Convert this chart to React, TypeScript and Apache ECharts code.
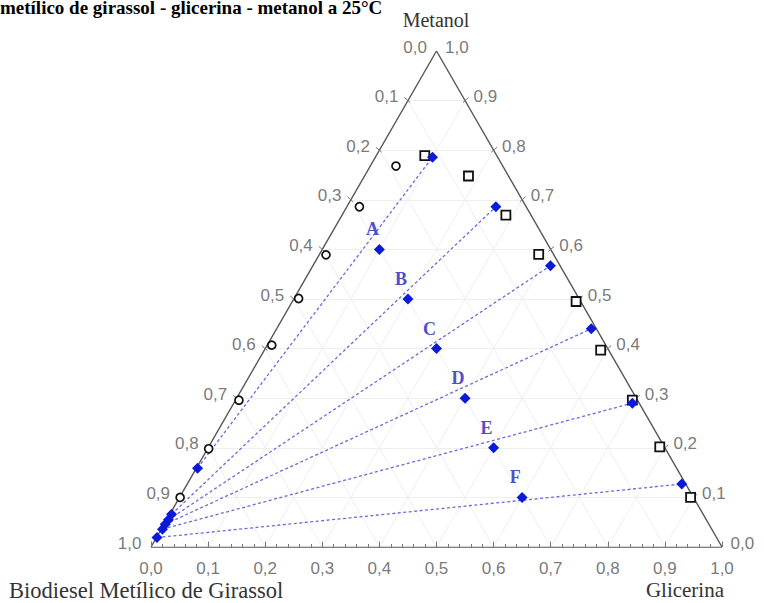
import React, { useEffect, useRef } from 'react';
import * as echarts from 'echarts';

// Tie-line labels and overall mixture compositions (mass fractions)
const tieLabels = ['A', 'B', 'C', 'D', 'E', 'F'];
const mixGlicerina = [0.1, 0.2, 0.3, 0.4, 0.5, 0.6];
const mixMetanol = [0.6, 0.5, 0.4, 0.3, 0.2, 0.1];

// Glycerin-rich phase (tie-line right ends)
const glyPhaseGlicerina = [0.100, 0.261, 0.416, 0.551, 0.698, 0.866];
const glyPhaseMetanol = [0.786, 0.686, 0.567, 0.440, 0.290, 0.127];

// Biodiesel-rich phase (tie-line left ends)
const bioPhaseGlicerina = [0.002, 0.003, 0.003, 0.002, 0.002, 0.001];
const bioPhaseMetanol = [0.159, 0.066, 0.055, 0.046, 0.036, 0.019];

// Binodal points: biodiesel side (circles)
const circGlicerina = [0.045, 0.022, 0.012, 0.008, 0.008, 0.006, 0.002, 0.001];
const circMetanol = [0.768, 0.686, 0.589, 0.501, 0.407, 0.296, 0.198, 0.100];

// Binodal points: glycerin side (squares)
const sqGlicerina = [0.085, 0.182, 0.287, 0.384, 0.497, 0.589, 0.695, 0.790, 0.895];
const sqMetanol = [0.789, 0.748, 0.669, 0.590, 0.495, 0.397, 0.296, 0.202, 0.100];

// Tick labels (0.0 ... 1.0)
const tickLabels = ['0,0', '0,1', '0,2', '0,3', '0,4', '0,5', '0,6', '0,7', '0,8', '0,9', '1,0'];

const titleText = 'metílico de girassol - glicerina - metanol a 25°C';
const topName = 'Metanol';
const leftName = 'Biodiesel Metílico de Girassol';
const rightName = 'Glicerina';

// ternary (glicerina, metanol) -> cartesian data coords
const T = (g: number, m: number): [number, number] => [g + m / 2, m];

export default function App() {
  const ref = useRef<HTMLDivElement>(null);
  useEffect(() => {
    const chart = echarts.init(ref.current!, null, { renderer: 'svg' });

    const gridLines: any[] = [];
    for (let i = 1; i < 10; i++) {
      const k = i / 10;
      gridLines.push({ coords: [T(k, 0), T(k, 1 - k)] });
      gridLines.push({ coords: [T(0, k), T(1 - k, k)] });
      gridLines.push({ coords: [T(1 - k, 0), T(0, 1 - k)] });
    }
    const edges = [
      { coords: [T(0, 0), T(1, 0)] },
      { coords: [T(1, 0), T(0, 1)] },
      { coords: [T(0, 1), T(0, 0)] },
    ];
    const ticks: any[] = [];
    for (let i = 0; i <= 50; i++) {
      const g = i / 50;
      const major = i % 5 === 0;
      ticks.push({ coords: [T(g, 0), [g, major ? 0.011 : 0.006]] });
    }
    for (let i = 1; i < 10; i++) {
      const m = i / 10;
      const pl = T(0, m);
      ticks.push({ coords: [[pl[0] - 0.006, pl[1] + 0.006], [pl[0] + 0.004, pl[1] - 0.004]] });
      const pr = T(1 - m, m);
      ticks.push({ coords: [[pr[0] + 0.006, pr[1] + 0.006], [pr[0] - 0.004, pr[1] - 0.004]] });
    }

    const tieLines = tieLabels.map((_, i) => ({
      coords: [T(bioPhaseGlicerina[i], bioPhaseMetanol[i]), T(glyPhaseGlicerina[i], glyPhaseMetanol[i])],
    }));

    const labelFont = { fontFamily: 'Liberation Sans', fontSize: 17, color: '#555' };

    const option: any = {
      animation: false,
      backgroundColor: '#ffffff',
      grid: { left: 151, right: 42, top: 51, bottom: 56 },
      xAxis: { type: 'value', min: 0, max: 1, show: false },
      yAxis: { type: 'value', min: 0, max: 1, show: false },
      graphic: [
        {
          type: 'text', x: 0, y: 17,
          style: { text: titleText, font: 'bold 19px "Liberation Serif"', fill: '#000', align: 'left', verticalAlign: 'bottom' },
        },
        {
          type: 'text', x: 436, y: 20,
          style: { text: topName, font: '20px "Liberation Serif"', fill: '#333', align: 'center', verticalAlign: 'middle' },
        },
        {
          type: 'text', x: 9, y: 590,
          style: { text: leftName, font: '22.5px "Liberation Serif"', fill: '#333', align: 'left', verticalAlign: 'middle' },
        },
        {
          type: 'text', x: 724, y: 590,
          style: { text: rightName, font: '21px "Liberation Serif"', fill: '#333', align: 'right', verticalAlign: 'middle' },
        },
      ],
      series: [
        {
          type: 'lines', coordinateSystem: 'cartesian2d', silent: true, z: 1,
          lineStyle: { color: '#eeeeee', width: 1, opacity: 1 },
          data: gridLines,
        },
        {
          type: 'lines', coordinateSystem: 'cartesian2d', silent: true, z: 2,
          lineStyle: { color: '#6a6adf', width: 1.3, type: [3, 2.5], opacity: 1 },
          data: tieLines,
        },
        {
          type: 'lines', coordinateSystem: 'cartesian2d', silent: true, z: 3,
          lineStyle: { color: '#555', width: 1.4, opacity: 1 },
          data: edges,
        },
        {
          type: 'lines', coordinateSystem: 'cartesian2d', silent: true, z: 3,
          lineStyle: { color: '#777', width: 1, opacity: 1 },
          data: ticks,
        },
        {
          type: 'scatter', z: 5, symbol: 'circle', symbolSize: 8,
          itemStyle: { color: '#fff', borderColor: '#111', borderWidth: 1.7, opacity: 1 },
          data: circGlicerina.map((g, i) => T(g, circMetanol[i])),
        },
        {
          type: 'scatter', z: 5, symbol: 'rect', symbolSize: 9,
          itemStyle: { color: '#fff', borderColor: '#111', borderWidth: 1.8, opacity: 1 },
          data: sqGlicerina.map((g, i) => T(g, sqMetanol[i])),
        },
        {
          type: 'scatter', z: 6, symbol: 'diamond', symbolSize: 11,
          itemStyle: { color: '#0a1ad6', opacity: 1 },
          data: [
            ...glyPhaseGlicerina.map((g, i) => T(g, glyPhaseMetanol[i])),
            ...bioPhaseGlicerina.map((g, i) => T(g, bioPhaseMetanol[i])),
          ],
        },
        {
          type: 'scatter', z: 6, symbol: 'diamond', symbolSize: 11,
          itemStyle: { color: '#0a1ad6', opacity: 1 },
          label: {
            show: true, position: 'inside', offset: [-7, -20], formatter: '{b}',
            fontFamily: 'Liberation Serif', fontWeight: 'bold', fontSize: 18, color: '#4f4fc8',
          },
          data: mixGlicerina.map((g, i) => ({ name: tieLabels[i], value: T(g, mixMetanol[i]) })),
        },
        // left (biodiesel) tick labels
        {
          type: 'scatter', z: 4, symbolSize: 1, itemStyle: { color: 'rgba(0,0,0,0)' },
          label: { show: true, position: 'left', distance: 9, offset: [0, -4], formatter: '{b}', ...labelFont },
          data: tickLabels.map((t, i) => ({ name: t, value: T(0, 1 - i / 10) })),
        },
        // right (metanol) tick labels
        {
          type: 'scatter', z: 4, symbolSize: 1, itemStyle: { color: 'rgba(0,0,0,0)' },
          label: { show: true, position: 'right', distance: 8, offset: [0, -4], formatter: '{b}', ...labelFont },
          data: tickLabels.map((t, i) => ({ name: t, value: T(1 - i / 10, i / 10) })),
        },
        // bottom (glicerina) tick labels
        {
          type: 'scatter', z: 4, symbolSize: 1, itemStyle: { color: 'rgba(0,0,0,0)' },
          label: { show: true, position: 'bottom', distance: 12, formatter: '{b}', ...labelFont },
          data: tickLabels.map((t, i) => ({ name: t, value: T(i / 10, 0) })),
        },
      ],
    };
    chart.setOption(option);
    return () => chart.dispose();
  }, []);
  return <div ref={ref} style={{ position: 'absolute', left: 0, top: 0, width: 764, height: 603 }} />;
}
